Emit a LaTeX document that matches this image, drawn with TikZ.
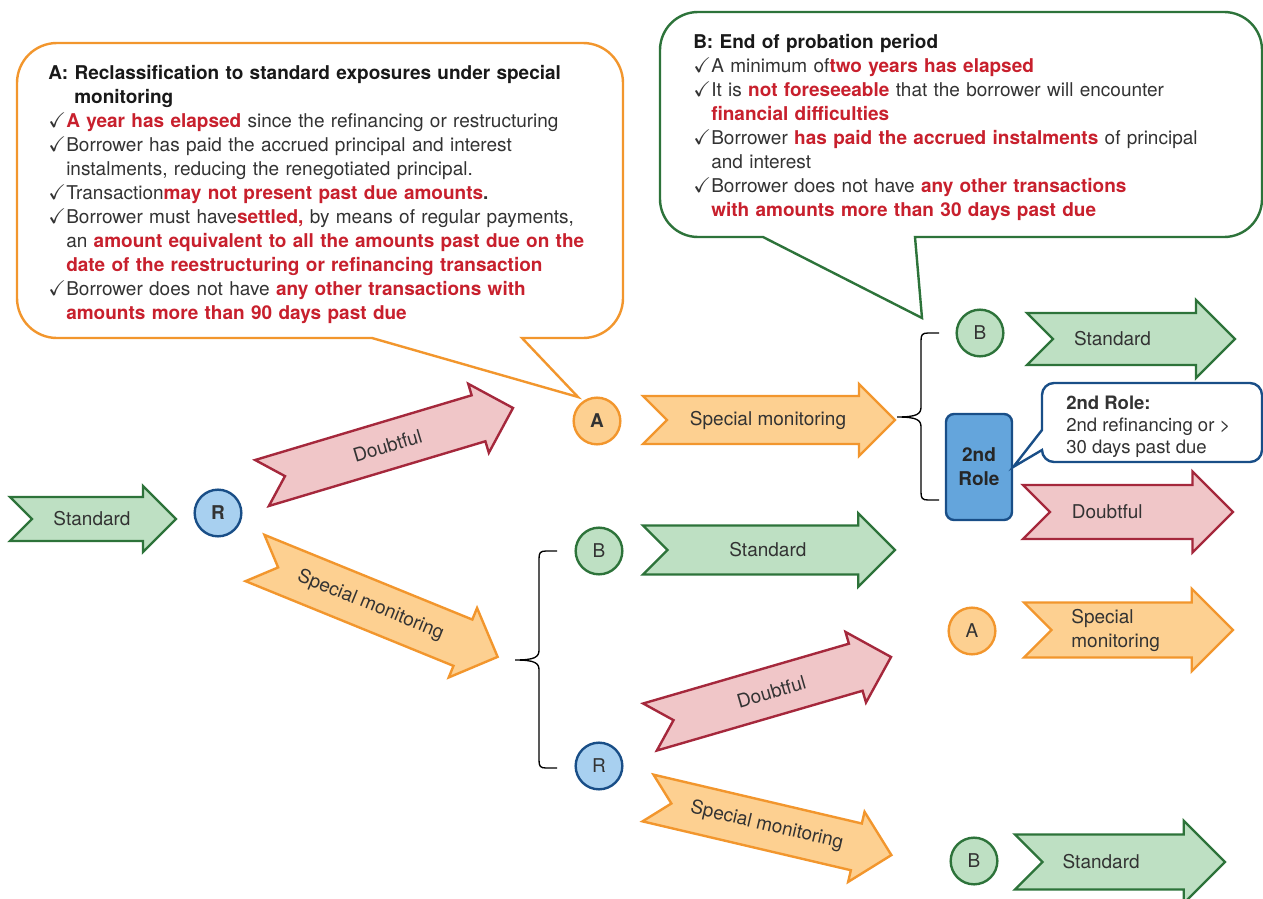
\documentclass[tikz,border=0pt]{standalone}
\usepackage{amssymb}
\usepackage{fontspec}
\setmainfont{TeX Gyre Heros}

\definecolor{stdline}{RGB}{45,115,58}
\definecolor{stdfill}{RGB}{190,224,195}
\definecolor{dbtline}{RGB}{165,40,60}
\definecolor{dbtfill}{RGB}{240,198,200}
\definecolor{smline}{RGB}{242,150,45}
\definecolor{smfill}{RGB}{253,208,145}
\definecolor{rline}{RGB}{25,78,135}
\definecolor{rfill}{RGB}{168,208,240}
\definecolor{rolefill}{RGB}{100,165,220}
\definecolor{redtxt}{RGB}{200,32,45}
\definecolor{txtgray}{RGB}{51,51,51}

\newcommand{\redb}[1]{\textbf{\color{redtxt}#1}}
\newcommand{\nl}{\hfil\break}
\newcommand{\tick}[1]{\par\noindent\hangindent=13.5pt\hangafter=1\makebox[13.5pt][l]{\fontsize{16}{18}\selectfont$\checkmark$}#1}

% chevron: style, tail centre, angle, length, half body width, name, label, label shift
\newcommand{\chevron}[8]{%
  \begin{scope}[shift={(#2)}, rotate=#3]
    \draw[#1] (0,-#5) -- ({#4-1.5*#5},-#5) -- ({#4-1.5*#5},{-1.5*#5}) -- (#4,0)
      -- ({#4-1.5*#5},{1.5*#5}) -- ({#4-1.5*#5},#5) -- (0,#5) -- (#5,0) -- cycle;
    \node[arrow label, rotate={-1*(#3)}] (#6) at ({(#4-0.5*#5)/2+#8},0) {#7};
  \end{scope}}

\tikzset{
  std arrow/.style={draw=stdline, fill=stdfill, line width=1.8pt},
  dbt arrow/.style={draw=dbtline, fill=dbtfill, line width=1.8pt},
  sm arrow/.style={draw=smline, fill=smfill, line width=1.8pt},
  arrow label/.style={text=txtgray, font=\fontsize{14.25}{18}\selectfont, inner sep=0pt, align=left},
  state/.style={circle, minimum size=35pt, inner sep=0pt, line width=1.8pt, text=txtgray,
    font=\fontsize{14.25}{17}\selectfont},
  std state/.style={state, draw=stdline, fill=stdfill},
  sm state/.style={state, draw=smline, fill=smfill},
  r state/.style={state, draw=rline, fill=rfill},
  role box/.style={draw=rline, fill=rolefill, line width=1.8pt, rounded corners=6pt,
    minimum width=49.5pt, minimum height=79.5pt, inner sep=0pt, align=center,
    text=black!85, font=\bfseries\fontsize{14.25}{18}\selectfont},
  crit text/.style={text width=430pt, align=left, inner sep=0pt, text=txtgray,
    font=\fontsize{14.25}{18}\selectfont},
  brace line/.style={line width=1pt, black},
}

\begin{document}
\begin{tikzpicture}[x=0.75pt,y=0.75pt,yscale=-1,xscale=1]
\useasboundingbox (0,0) rectangle (1263,899);

% callout A
\draw[smline, fill=white, line width=1.8pt] (372,338) -- (57,338) arc[start angle=90,end angle=180,radius=40]
  -- (17,83) arc[start angle=180,end angle=270,radius=40] -- (583,43) arc[start angle=270,end angle=360,radius=40]
  -- (623,298) arc[start angle=0,end angle=90,radius=40] -- (522,338) -- (578,397) -- cycle;
\node[crit text, anchor=north west] (critA) at (48,65) {%
  \noindent\hangindent=19.5pt\hangafter=1{\color{black!90}\textbf{A: Reclassification to standard exposures under special}\nl\textbf{monitoring}}
  \tick{\redb{A year has elapsed} since the refinancing or restructuring}
  \tick{Borrower has paid the accrued principal and interest\nl instalments, reducing the renegotiated principal.}
  \tick{Transaction\redb{may not present past due amounts}\textbf{.}}
  \tick{Borrower must have\redb{settled,} by means of regular payments,\nl an \redb{amount equivalent to all the amounts past due on the}\nl\redb{date of the reestructuring or refinancing transaction}}
  \tick{Borrower does not have \redb{any other transactions with}\nl\redb{amounts more than 90 days past due}}\par
};

% callout B
\draw[stdline, fill=white, line width=1.8pt] (763,237) -- (698,237) arc[start angle=90,end angle=180,radius=38]
  -- (660,50) arc[start angle=180,end angle=270,radius=38] -- (1224,12) arc[start angle=270,end angle=360,radius=38]
  -- (1262,199) arc[start angle=0,end angle=90,radius=38] -- (915,237) -- (922,318) -- cycle;
\node[crit text, anchor=north west] (critB) at (693,34) {%
  \noindent{\color{black!90}\textbf{B: End of probation period}}
  \tick{A minimum of\redb{two years has elapsed}}
  \tick{It is \redb{not foreseeable} that the borrower will encounter\nl\redb{financial difficulties}}
  \tick{Borrower \redb{has paid the accrued instalments} of principal\nl and interest}
  \tick{Borrower does not have \redb{any other transactions}\nl\redb{with amounts more than 30 days past due}}\par
};

% states
\node[r state, font=\bfseries\fontsize{14.25}{17}\selectfont] (R1) at (218,513) {R};
\node[sm state, font=\bfseries\fontsize{14.25}{17}\selectfont] (A1) at (597,421) {A};
\node[std state] (B1) at (980,333) {B};
\node[std state] (B2) at (599,551) {B};
\node[r state] (R2) at (599,766) {R};
\node[sm state] (A2) at (972,631) {A};
\node[std state] (B3) at (974,861) {B};

% arrows
\chevron{std arrow}{10,519}{0}{166}{22}{stdIn}{Standard}{4.5}
\chevron{dbt arrow}{262,483}{-16.64}{262}{24}{dbtR1}{Doubtful}{6}
\chevron{sm arrow}{255,558}{22.17}{262}{25}{smR1}{Special monitoring}{0}
\chevron{sm arrow}{643,420}{0}{252}{24}{smA1}{Special monitoring}{5}
\chevron{std arrow}{1027,339}{0}{208}{26}{stdB1}{Standard}{-12}
\chevron{dbt arrow}{1023,512}{0}{210}{27}{dbtRole}{Doubtful}{-14}
\chevron{std arrow}{643,550}{0}{252}{24.5}{stdB2}{Standard}{5}
\chevron{dbt arrow}{650,727}{-16.2}{251}{24.5}{dbtR2}{Doubtful}{7}
\chevron{sm arrow}{648,798}{13.2}{250}{24}{smR2}{Special monitoring}{3}
\chevron{sm arrow}{1024,630}{0}{209}{27.5}{smA2}{Special\\monitoring}{-6}
\chevron{std arrow}{1015,862}{0}{210}{27.5}{stdB3}{Standard}{-12}

% braces
\draw[brace line] (939,333) -- (928,333) .. controls (922,333) and (921,335) .. (921,341) -- (921,407)
  .. controls (921,414) and (917,417) .. (897,417) .. controls (917,417) and (921,420) .. (921,427)
  -- (921,492) .. controls (921,498) and (922,500) .. (928,500) -- (939,500);
\draw[brace line] (557,551) -- (546,551) .. controls (540,551) and (539,553) .. (539,559) -- (539,650)
  .. controls (539,657) and (535,660) .. (515,660) .. controls (535,660) and (539,663) .. (539,670)
  -- (539,760) .. controls (539,766) and (540,768) .. (546,768) -- (557,768);

% second role
\node[role box] (role) at (979,467) {2nd\\Role};
\draw[rline, fill=white, line width=1.8pt] (1042,430) -- (1042,395) arc[start angle=180,end angle=270,radius=12]
  -- (1250,383) arc[start angle=270,end angle=360,radius=12] -- (1262,450) arc[start angle=0,end angle=90,radius=12]
  -- (1054,462) arc[start angle=90,end angle=180,radius=12] -- (1042,450) -- (role.east) -- cycle;
\node[anchor=north west, inner sep=0pt, align=left, text=txtgray, font=\fontsize{13.9}{16.5}\selectfont]
  (roleNote) at (1066,396) {\textbf{2nd Role:}\\2nd refinancing or >\\30 days past due};

\end{tikzpicture}
\end{document}
